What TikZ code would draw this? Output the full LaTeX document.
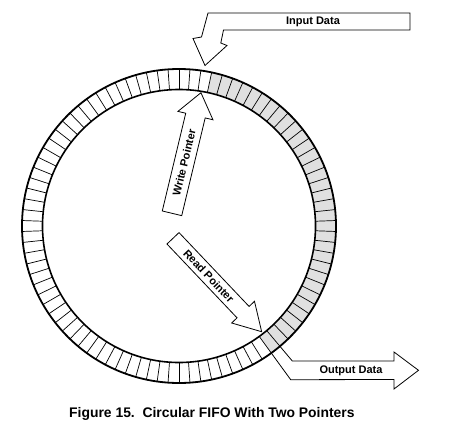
\documentclass[tikz,border=0pt]{standalone}
\usepackage{fontspec}
\setmainfont{Liberation Sans}
\definecolor{fifogray}{HTML}{E0E0E0}
\begin{document}
\begin{tikzpicture}[x=1pt,y=-1pt,
  lbl/.style={font=\fontsize{11}{13}\selectfont\bfseries, inner sep=0pt},
  outl/.style={draw=black, line width=0.8pt, fill=white, line join=miter}]
\useasboundingbox (0,0) rectangle (450,442);
% ring
\begin{scope}[shift={(179,226)}, y=1pt]
  \fill[fifogray] (-54:136.5pt) arc[start angle=-54,end angle=78,radius=136.5pt]
     -- (78:157pt) arc[start angle=78,end angle=-54,radius=157pt] -- cycle;
  \foreach \k in {0,...,89} {
    \draw[line width=0.7pt] ({2+4*\k}:136.5pt) -- ({2+4*\k}:157pt);
  }
  \draw[line width=1.8pt] (0,0) circle[radius=157pt];
  \draw[line width=1.6pt] (0,0) circle[radius=136.5pt];
  \coordinate (outA) at (-50:157pt);
  \coordinate (outB) at (-54:157pt);
\end{scope}
% input data arrow
\draw[outl] (410,13) -- (208,13) -- (201.5,37) -- (193,38.5) -- (205,65.5)
   -- (227,45.5) -- (220.8,43) -- (223.5,30) -- (410,30) -- cycle;
\node[lbl] (in) at (313,22) {Input Data};
% output data arrow
\draw[outl, fill=none] (outA) -- (292.3,361) -- (394,361) -- (394,352) -- (418.5,370.3)
   -- (394,389) -- (394,379.5) -- (290.7,379.7) -- (outB);
\node[lbl] (out) at (351,370.3) {Output Data};
% write pointer
\begin{scope}[shift={(172,213.3)}, rotate=76.5]
  \draw[outl] (0,-10) -- (100.5,-10) -- (100.5,-18) -- (124,0) -- (100.5,18)
     -- (100.5,10) -- (0,10) -- cycle;
  \node[lbl, rotate=76.5] (wp) at (52,0) {Write Pointer};
\end{scope}
% read pointer
\begin{scope}[shift={(173,238.3)}, rotate=-46.5]
  \draw[outl] (0,-8.3) -- (101.8,-8.3) -- (101.8,-15.75) -- (128.8,0) -- (101.8,15.75)
     -- (101.8,8.3) -- (0,8.3) -- cycle;
  \node[lbl, rotate=-46.5] (rp) at (52,0) {Read Pointer};
\end{scope}
% caption
\node[font=\fontsize{13.9}{16}\selectfont\bfseries, inner sep=0pt, anchor=base west] (cap)
  at (69,417) {Figure 15.\ \ Circular FIFO With Two Pointers};
\end{tikzpicture}
\end{document}
